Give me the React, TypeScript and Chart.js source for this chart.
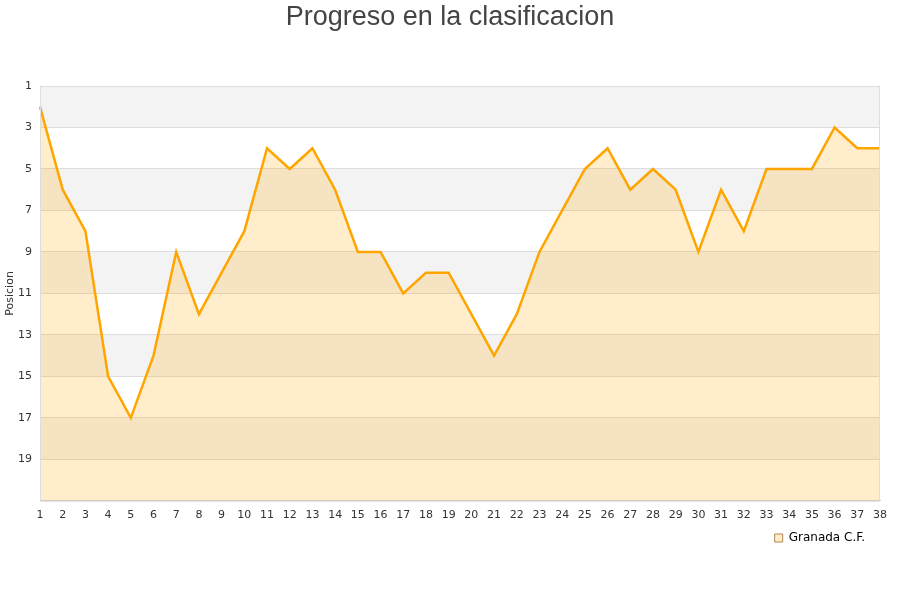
import { useEffect, useRef } from "react"
import { Chart, registerables } from "chart.js"

Chart.register(...registerables)

const jornadas = [
  "1", "2", "3", "4", "5", "6", "7", "8", "9", "10",
  "11", "12", "13", "14", "15", "16", "17", "18", "19", "20",
  "21", "22", "23", "24", "25", "26", "27", "28", "29", "30",
  "31", "32", "33", "34", "35", "36", "37", "38",
]
const posiciones = [
  2, 6, 8, 15, 17, 14, 9, 12, 10, 8,
  4, 5, 4, 6, 9, 9, 11, 10, 10, 12,
  14, 12, 9, 7, 5, 4, 6, 5, 6, 9,
  6, 8, 5, 5, 5, 3, 4, 4,
]
const equipo = "Granada C.F."
// gray bands on the y axis (from, to)
const bandas = [
  [1, 3],
  [5, 7],
  [9, 11],
  [13, 15],
  [17, 19],
]

const bandsPlugin = {
  id: "bands",
  afterLayout(chart: Chart) {
    // pull the legend a bit away from the right edge
    if (chart.legend) {
      chart.legend.right = chart.chartArea.right - 15
      chart.legend.top += 2
    }
    // center the title on the whole canvas
    const title = (chart as any).titleBlock
    if (title) title.right = chart.width
  },
  beforeDraw(chart: Chart) {
    const { ctx, chartArea, scales } = chart
    const y = scales.y
    ctx.save()
    ctx.fillStyle = "#f3f3f3"
    bandas.forEach(([from, to]) => {
      const y1 = y.getPixelForValue(from)
      const y2 = y.getPixelForValue(to)
      ctx.fillRect(chartArea.left, Math.min(y1, y2), chartArea.right - chartArea.left, Math.abs(y2 - y1))
    })
    ctx.restore()
  },
  afterDraw(chart: Chart) {
    const { ctx, chartArea } = chart
    ctx.save()
    ctx.strokeStyle = "#dddddd"
    ctx.lineWidth = 1
    ctx.strokeRect(chartArea.left + 0.5, chartArea.top + 0.5, chartArea.right - chartArea.left - 1, chartArea.bottom - chartArea.top)
    ctx.restore()
  },
}

export default function App() {
  const chartRef = useRef<HTMLCanvasElement>(null)
  const chartInstance = useRef<Chart | null>(null)

  useEffect(() => {
    document.body.style.margin = "0"
    if (!chartRef.current) return

    if (chartInstance.current) {
      chartInstance.current.destroy()
    }

    const ctx = chartRef.current.getContext("2d")
    if (!ctx) return

    chartInstance.current = new Chart(ctx, {
      type: "line",
      data: {
        labels: jornadas,
        datasets: [
          {
            label: equipo,
            data: posiciones,
            borderColor: "#FFA500",
            backgroundColor: "rgba(255, 165, 0, 0.2)",
            borderWidth: 2.5,
            pointRadius: 0,
            tension: 0,
            fill: "start",
          },
        ],
      },
      options: {
        responsive: true,
        maintainAspectRatio: false,
        animation: false,
        layout: {
          padding: { left: 0, right: 20, top: 0, bottom: 48 },
        },
        scales: {
          x: {
            offset: false,
            grid: { display: false, drawTicks: false },
            border: { color: "#cccccc" },
            ticks: {
              autoSkip: false,
              maxRotation: 0,
              padding: 8,
              color: "#333333",
              font: { family: "DejaVu Sans", size: 11 },
            },
          },
          y: {
            reverse: true,
            min: 1,
            max: 21,
            afterFit: (scale) => {
              scale.width = 40
            },
            grid: { color: "#dddddd", drawTicks: false },
            border: { display: false },
            ticks: {
              stepSize: 2,
              padding: 8,
              color: "#333333",
              font: { family: "DejaVu Sans", size: 11 },
              callback: (value) => (value === 21 ? "" : String(value)),
            },
            title: {
              display: true,
              text: "Posicion",
              color: "#333333",
              font: { family: "DejaVu Sans", size: 11 },
              padding: { top: 4, bottom: 0 },
            },
          },
        },
        plugins: {
          title: {
            display: true,
            text: "Progreso en la clasificacion",
            color: "#444444",
            font: { family: "Liberation Sans", size: 27, weight: "normal" },
            padding: { top: 1, bottom: 52.6 },
          },
          legend: {
            position: "bottom",
            align: "end",
            labels: {
              boxWidth: 8,
              boxHeight: 8,
              padding: 0,
              color: "#000000",
              font: { family: "DejaVu Sans", size: 12 },
              generateLabels: (chart) =>
                chart.data.datasets.map((ds, i) => ({
                  text: ds.label as string,
                  fillStyle: "#FFEDCC",
                  strokeStyle: "#b08850",
                  lineWidth: 1,
                  hidden: false,
                  datasetIndex: i,
                })),
            },
          },
          tooltip: { enabled: false },
        },
      },
      plugins: [bandsPlugin],
    })

    return () => {
      if (chartInstance.current) {
        chartInstance.current.destroy()
      }
    }
  }, [])

  return (
    <div style={{ width: 900, height: 600, position: "relative" }}>
      <canvas ref={chartRef} />
    </div>
  )
}
